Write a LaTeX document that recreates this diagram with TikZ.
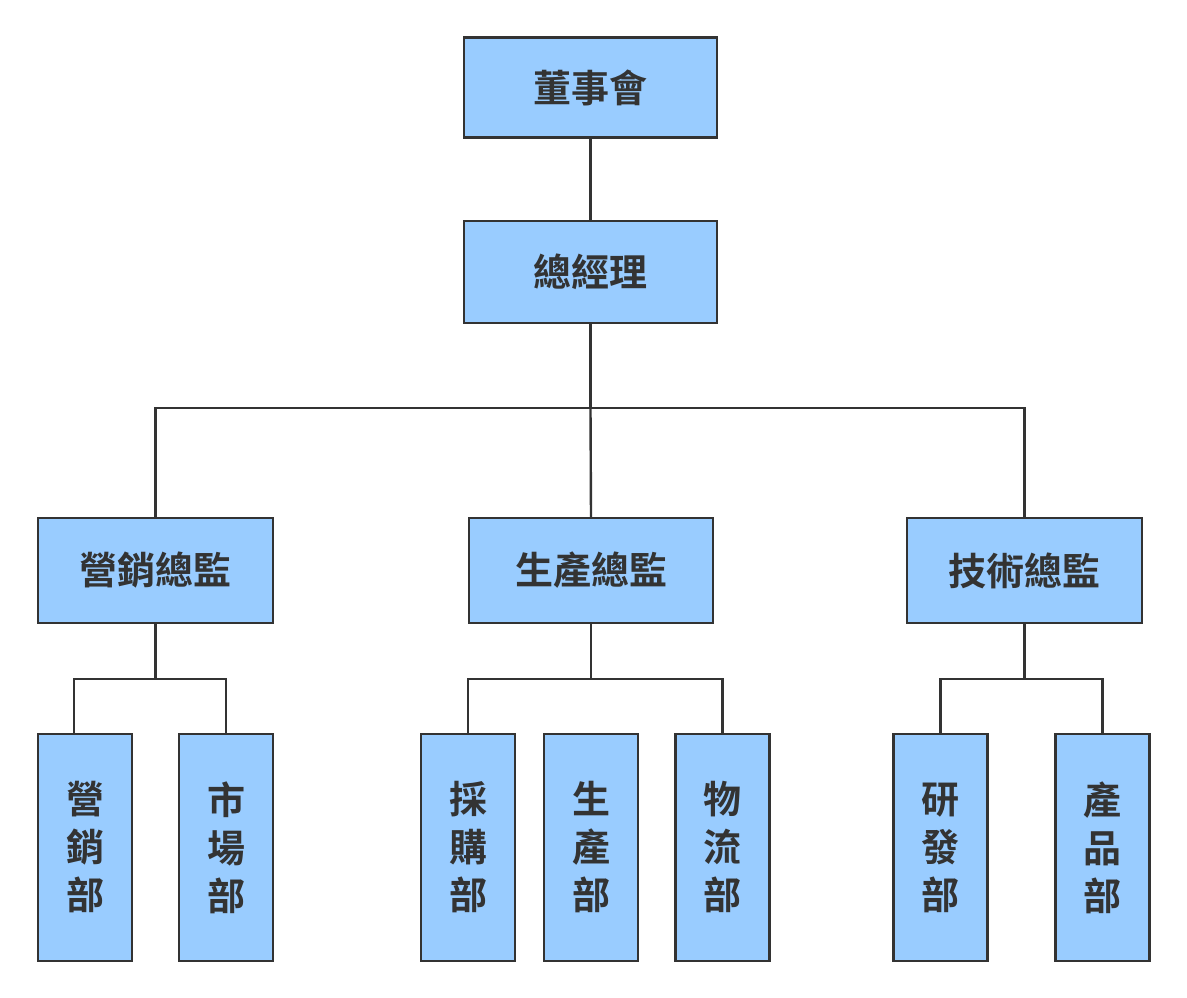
\documentclass[tikz,border=0pt]{standalone}
\usepackage{fontspec}
\newfontfamily\cjk{Noto Sans CJK TC Bold}
\definecolor{boxfill}{HTML}{99CCFF}
\definecolor{ink}{HTML}{333333}
\begin{document}
\begin{tikzpicture}[x=1pt,y=-1pt,
  box/.style={draw=ink,line width=2.4pt,fill=boxfill,text=ink,inner sep=0pt,
    font=\cjk\fontsize{38}{48}\selectfont,align=center},
  topbox/.style={box,minimum width=253pt,minimum height=100pt},
  dirbox/.style={box,minimum width=235pt,minimum height=105pt},
  deptbox/.style={box,minimum width=94pt,minimum height=227pt},
  link/.style={draw=ink,line width=2.4pt}]
\useasboundingbox (0,0) rectangle (1187,998);
\node[topbox] (board) at (590.5,87.5) {董事會};
\node[topbox,minimum height=102pt] (gm) at (590.5,272) {總經理};
\node[dirbox] (mkt) at (155.5,570.5) {營銷總監};
\node[dirbox,minimum width=244pt] (prod) at (591,570.5) {生產總監};
\node[dirbox] (tech) at (1024.5,570.5) {技術總監};
\node[deptbox] (d1) at (85,847.5) {營\\銷\\部};
\node[deptbox] (d2) at (226,847.5) {市\\場\\部};
\node[deptbox] (d3) at (468,847.5) {採\\購\\部};
\node[deptbox] (d4) at (591,847.5) {生\\產\\部};
\node[deptbox] (d5) at (722.5,847.5) {物\\流\\部};
\node[deptbox] (d6) at (940.5,847.5) {研\\發\\部};
\node[deptbox] (d7) at (1102.5,847.5) {產\\品\\部};
\coordinate (busTop) at (590.5,408);
\coordinate (busMkt) at (155.5,679);
\coordinate (busProd) at (591,679);
\coordinate (busTech) at (1024.5,679);
\draw[link] (board.south) -- (gm.north);
\draw[link] (gm.south) -- (busTop);
\draw[link] (mkt.north) |- (busTop) -| (tech.north);
\draw[link] (busTop) -- (prod.north);
\draw[link] (mkt.south) -- (busMkt);
\draw[link] ([xshift=-11pt]d1.north) |- (busMkt) -| (d2.north);
\draw[link] (prod.south) -- (busProd);
\draw[link] (d3.north) |- (busProd) -| (d5.north);
\draw[link] (tech.south) -- (busTech);
\draw[link] (d6.north) |- (busTech) -| (d7.north);
\end{tikzpicture}
\end{document}
